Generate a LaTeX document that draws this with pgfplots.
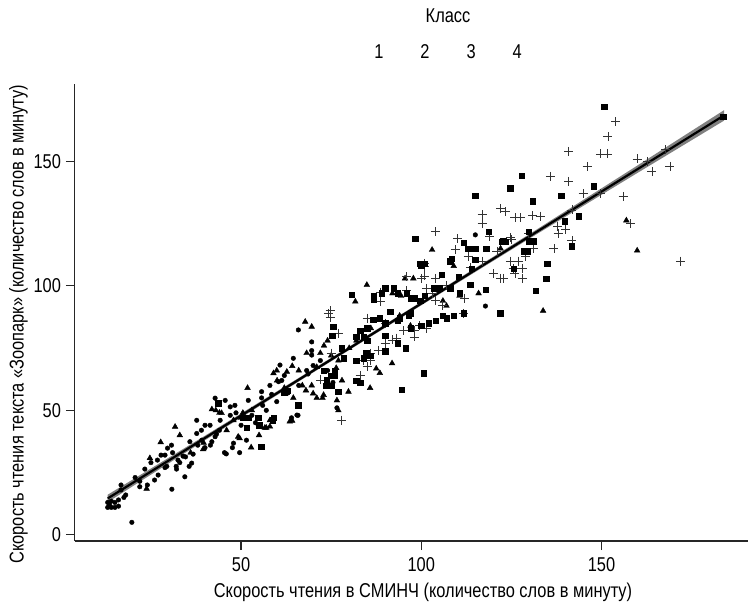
\documentclass[border=0pt]{standalone}
\usepackage{fontspec}
\setmainfont{Liberation Sans}[FakeStretch=0.82]
\usepackage{pgfplots}
\pgfplotsset{compat=1.18}

\begin{document}
\begin{tikzpicture}
\begin{axis}[
  scale only axis,
  width=674bp, height=456.7bp,
  xmin=3.9, xmax=190.9,
  ymin=-2.5, ymax=181,
  axis x line*=bottom, axis y line*=left,
  axis line style={-, line width=1.2bp, black!85},
  tick style={line width=1.2bp, black!85},
  tick align=outside,
  major tick length=9bp,
  xtick={50,100,150}, ytick={0,50,100,150},
  font=\fontsize{20bp}{23bp}\selectfont,
  /pgf/number format/assume math mode=true,
  xticklabel style={yshift=-4.5bp},
  yticklabel style={xshift=-1.5bp},
  xlabel={Скорость чтения в СМИНЧ (количество слов в минуту)},
  ylabel={Скорость чтения текста «Зоопарк» (количество слов в минуту)},
  xlabel style={at={(axis description cs:0.5165,-0.1117)}, anchor=center},
  ylabel style={at={(axis description cs:-0.0837,0.475)}, anchor=center},
  title={Класс},
  title style={at={(axis description cs:0.5536,1.138)}, anchor=center},
  legend image code/.code={},
  legend columns=4,
  legend style={draw=none, fill=none, at={(axis description cs:0.5536,1.070)}, anchor=center,
    nodes={inner sep=0pt},
    /tikz/every even column/.append style={column sep=37bp}},
  clip=false,
]
% grade 1
\addplot[only marks, mark=*, mark size=2.3bp, black] coordinates {
(13,11) (13.5,12) (14,11) (15,11) (16,11.5) (13,13) (14,13.5) (15,13) (16,14)
(19.7,5) (16.7,20) (16.7,18) (18,16) (17.5,15) (20.6,23) (21.9,19.3) (21.9,21.5)
(23.3,26.4) (24,20) (26,22) (25,29) (26.8,30) (27,24) (27.8,32) (28.9,27) (28.9,32)
(29.4,27.5) (29.6,34.8) (30.7,36) (30.8,18.3) (31,33) (32.1,26.4) (32,27.5) (32.5,30)
(33,29) (33.9,31.6) (34.4,23.3) (34.6,31.3) (35.6,27.5) (35.8,37.4) (36.3,28.8)
(36.7,32.4) (37.7,46) (37.7,40.7) (38,36) (39.1,38) (39,42) (40,44) (40,35) (41.4,44)
(41.5,36) (41.9,37.4) (42.8,54.9) (42.8,39.4) (43.2,40.5) (44,42) (44.2,46) (45.4,33)
(45.9,32.5) (45.6,54) (47,51.4) (47,48) (47.6,35) (47.9,36.8) (48.3,52) (48.6,49)
(49.6,33) (50,44) (51.5,38) (52,54) (53,48) (54,45) (55.7,55) (55.7,57.5) (56,52)
(57,50) (58.5,56.4) (58,60) (59.9,53.5) (60.8,68.2) (60.4,61.5) (61.3,62) (62,58)
(62,64) (63,57) (64,47) (64.5,70.9) (65.5,48.1) (65.8,48) (65.9,82.3) (66,60)
(68.2,66) (68.6,64.6) (69.6,72.2) (69.6,77.5) (69.6,74) (70,68) (72,70) (74,66)
(75.5,61.2) (76.6,51) (115,120.5) (117.8,91.9)
};
\addlegendentry{1}
% grade 2
\addplot[only marks, mark=triangle*, mark size=3.3bp, black] coordinates {
(23.8,18.5) (24.7,30.8) (27.7,37.2) (31.7,43.4) (33,40) (36,33) (39.5,34.4) (39.6,37)
(41.9,50.4) (43,50) (44,49) (44.6,48.9) (46,42) (47.9,46) (49.2,39.4) (49.6,38.8)
(50,47) (50.5,49) (51.8,59) (52.8,35.1) (53,50) (55,40) (56.6,43) (57,43) (58,43.5)
(58,46) (59,64.9) (59.9,66) (60,62) (62,59) (62.7,65.5) (63.5,45.5) (64.2,67.8)
(64.5,55) (64.2,45.8) (66,66) (67,60) (67.8,85.6) (68,58) (69.6,83.6) (68.2,73)
(69.6,60) (70,56.8) (71,55) (71,67.4) (72,73) (72.6,55) (72.9,56.2) (73,76) (74,78)
(75,72) (76.4,67) (76.6,54) (77,70) (77,50) (78,62) (79.8,57.5) (80,75) (81.7,93.7)
(82,78) (84.9,100.4) (85.8,59) (86,83) (87.5,66.8) (88.5,65) (91.9,68.9) (92,97)
(93.5,86) (94,88) (94.4,96) (95.5,103) (97,84) (97.8,103) (103,114.5) (106,94)
(107,92) (109,108) (110.6,96) (115.9,97) (122,115) (133.8,90) (156.9,126.3)
(159.9,114.2)
};
\addlegendentry{2}
% grade 3
\addplot[only marks, mark=+, mark size=4.5bp, black!80, mark options={line width=0.8bp}] coordinates {
(72,62.2) (74.2,89) (74.7,90) (74.7,87.5) (75,73) (77,81) (77.9,46.1) (83,64) (84,70)
(85,67.5) (85.8,70) (86,73) (85,87) (88,74) (88.6,97.5) (88.6,93.7) (90,85) (90,77)
(91.9,78.3) (93,79) (95,82) (96,103.7) (96,98) (98,79.5) (98,82) (99.5,84) (100,103)
(101,107.8) (101,104) (101.4,99) (101.5,83) (101,109) (103,97) (103.9,121.8)
(104,103) (104,94) (106,92) (107,100) (109.4,114.5) (110,119) (111.7,89) (112,95)
(113,112) (113.6,107.4) (116.9,128.6) (116.9,125) (117,110) (119,120) (120,105)
(121,114) (122,131) (122,103) (122.8,103) (123.3,129.8) (124.7,119.3) (124.7,110)
(125,118.5) (125.5,107) (126,127.4) (126,105) (127.4,127.4) (127,110) (128,107)
(128,103) (129,112) (129.8,121) (130.9,128.2) (131,115) (133,128) (135.8,144)
(136.8,114.9) (137.8,124) (138,121) (140,122.8) (140.9,154) (140.9,142) (141.8,130.5)
(141.8,118.2) (144.9,137) (146,148) (149.6,137) (149.7,153) (151.7,153) (151.8,160)
(153.9,166) (156,136) (158,125) (159.9,151) (162.7,150) (164,146) (167.8,154.7)
(169,148) (171.9,110)
};
\addlegendentry{3}
% grade 4
\addplot[only marks, mark=square*, mark size=2.7bp, black] coordinates {
(43.7,52.9) (50.6,47) (51.5,43) (52,47) (54.8,47) (55,44) (55.6,35.4) (58.7,46.1)
(59,47) (62,57) (63,58) (65.8,52) (73.5,60) (73.8,62.2) (74.8,64) (75,60) (73,66)
(75.3,80) (75.6,83.6) (76,64) (76,66) (77,57.5) (78,75) (78.5,71) (80.7,96.4)
(82,61.8) (82,70) (82,79.5) (83,61) (83,82) (84,71) (84,79.5) (84.7,73) (85,78)
(85,83) (85.5,72) (86,72) (86.7,86.3) (86.8,94.4) (86.8,96) (88.5,87) (89,97) (90,99)
(90,85) (90,73.7) (90,80) (91.4,89.7) (92.3,99) (93.5,86) (93.5,97) (93.5,77) (94,87)
(94.6,58.2) (95.6,75) (96,97) (96.5,88) (97,95) (97,83) (97,89) (98,95) (98.3,119)
(99.7,109) (99.7,94) (100,84) (100,108) (100.6,64.9) (101,109) (101,96) (102,85)
(103.5,99) (104,86) (105,99) (105.7,104.4) (106,88) (107,87) (108,99) (108,110)
(108.5,111) (109,88) (110.4,103.7) (110.6,97) (111.7,89) (111.8,117.3) (113,115)
(113.6,100.4) (114,107) (115,136.2) (115,110.5) (115,115) (117.8,98.4) (118,115)
(118.7,121.8) (121.9,89) (122.5,117.8) (122.7,118) (123.5,117.8) (124.7,139.3)
(125.6,107) (127.8,144.2) (128.5,114) (129.5,114) (129.8,121.8) (129.8,118)
(130.9,134) (131,118) (131.7,98) (134.7,103) (134.9,108.8) (138.8,136.2) (139.8,126)
(141.7,116) (143.7,128) (147.9,140) (150.8,172) (183.8,168)
};
\addlegendentry{4}
% confidence band of the fitted line
\addplot[forget plot, fill=black!50, draw=none] coordinates {
(13,16.1) (40,39.8) (70,66.6) (100,93.6) (130,120.8) (160,148.4) (184,170.6)
(184,166.4) (160,145.4) (130,119.0) (100,92.2) (70,65.2) (40,38.0) (13,13.1)
} -- cycle;
% fitted line
\addplot[forget plot, black, line width=2.2bp] coordinates {(13,14.6) (184,168.5)};
\coordinate (bbA) at (rel axis cs:0,0);
\end{axis}
\pgfresetboundingbox
\path ([xshift=-74.9bp,yshift=-61bp]bbA) rectangle ++(748bp,602bp);
\end{tikzpicture}
\end{document}
